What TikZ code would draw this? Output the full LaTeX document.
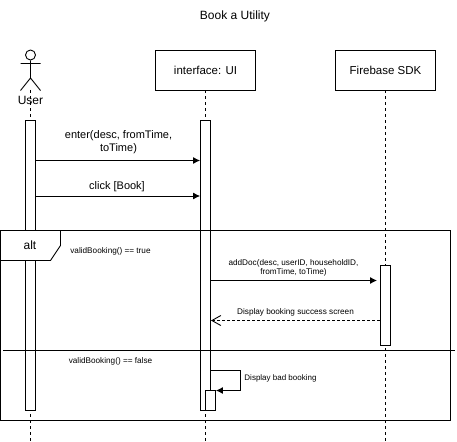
\documentclass[tikz,border=0pt]{standalone}
\usepackage{fontspec}
\setmainfont{Liberation Sans}
\usetikzlibrary{arrows.meta}
\tikzset{
  x=1pt,y=-1pt,
  every path/.style={line width=0.9pt},
  headbox/.style={draw,fill=white,minimum width=100pt,minimum height=40pt,inner sep=0pt,font=\fontsize{11.5}{13}\selectfont},
  bar/.style={draw,fill=white,minimum width=10pt,inner sep=0pt,anchor=north},
  life/.style={dash pattern=on 3pt off 3pt},
  msg/.style={-{Latex[length=7pt,width=7pt]}},
  ret/.style={dash pattern=on 3pt off 2pt,-{Straight Barb[length=9pt,width=10pt]}},
  lab/.style={inner sep=0pt,align=center,font=\fontsize{11}{13}\selectfont},
  small/.style={inner sep=0pt,align=center,font=\fontsize{8.2}{9.5}\selectfont},
}
\begin{document}
\begin{tikzpicture}
\useasboundingbox (0,0) rectangle (457,441);
% heads
\node[headbox] (ui) at (205.5,70) {interface: UI};
\node[headbox] (fb) at (385.5,70) {Firebase SDK};
% actor
\node[circle,draw,fill=white,minimum size=10pt,inner sep=0pt] (head) at (30.5,55) {};
\coordinate (neck) at (30.5,78);
\coordinate (armL) at (20.5,63.5);
\coordinate (armR) at (40.5,63.5);
\coordinate (legL) at (20.5,90.5);
\coordinate (legR) at (40.5,90.5);
\coordinate (actorFoot) at (30.5,90);
% lifeline ends
\coordinate (uEnd) at (30.5,441);
\coordinate (iEnd) at (205.5,441);
\coordinate (fEnd) at (385.5,441);
\draw[life] (actorFoot) -- (uEnd);
\draw[life] (ui.south) -- (iEnd);
\draw[life] (fb.south) -- (fEnd);
\draw (head.south) -- (neck) (armL) -- (armR) (legL) -- (neck) -- (legR);
\node[inner sep=0pt,font=\fontsize{12}{14}\selectfont] (user) at (30.5,100) {User};
% activations
\node[bar,minimum height=290pt] (au) at (30.5,120) {};
\node[bar,minimum height=290pt] (ai) at (205.5,120) {};
\node[bar,minimum height=20pt] (as) at (210.5,390) {};
\node[bar,minimum height=80pt] (af) at (385.5,265) {};
% title
\node[inner sep=0pt,font=\fontsize{12}{14}\selectfont] (title) at (235,16) {Book a Utility};
% frame
\coordinate (fTL) at (0.5,230.5);
\coordinate (fBR) at (450.5,420.5);
\draw (fTL) rectangle (fBR);
\coordinate (t1) at (60.5,230.5);
\coordinate (t2) at (60.5,245.5);
\coordinate (t3) at (50.5,260.5);
\coordinate (t4) at (0.5,260.5);
\draw[fill=white] (fTL) -- (t1) -- (t2) -- (t3) -- (t4) -- cycle;
\node[inner sep=0pt,font=\fontsize{12}{14}\selectfont] (alt) at (30,245) {alt};
\node[small] (g1) at (110.5,251.5) {validBooking() == true};
\coordinate (dL) at (3,350.5);
\coordinate (dR) at (455,350.5);
\draw (dL) -- (dR);
\node[small] (g2) at (110.5,361.5) {validBooking() == false};
% messages
\coordinate (m1a) at (au.east |- 0,160.5);
\coordinate (m1b) at (ai.west |- 0,160.5);
\draw[msg] (m1a) -- (m1b);
\node[lab] (l1) at (118.5,142.5) {enter(desc, fromTime,\\toTime)};
\coordinate (m2a) at (au.east |- 0,196);
\coordinate (m2b) at (ai.west |- 0,196);
\draw[msg] (m2a) -- (m2b);
\node[lab] (l2) at (117,187) {click [Book]};
\coordinate (m3a) at (ai.east |- 0,280.5);
\coordinate (m3b) at (377,280.5);
\draw[msg] (m3a) -- (m3b);
\node[small] (l3) at (293.5,268) {addDoc(desc, userID, householdID,\\fromTime, toTime)};
\coordinate (m4a) at (af.west |- 0,320.5);
\coordinate (m4b) at (ai.east |- 0,320.5);
\draw[ret] (m4a) -- (m4b);
\node[small] (l4) at (295.5,312.5) {Display booking success screen};
\coordinate (s1) at (ai.east |- 0,370.5);
\coordinate (s2) at (240.5,370.5);
\coordinate (s3) at (240.5,390.5);
\coordinate (s4) at (as.east |- 0,390.5);
\draw[msg] (s1) -- (s2) -- (s3) -- (s4);
\node[small,anchor=west,font=\fontsize{8}{9.5}\selectfont] (l5) at (244,378.5) {Display bad booking};
\end{tikzpicture}
\end{document}
